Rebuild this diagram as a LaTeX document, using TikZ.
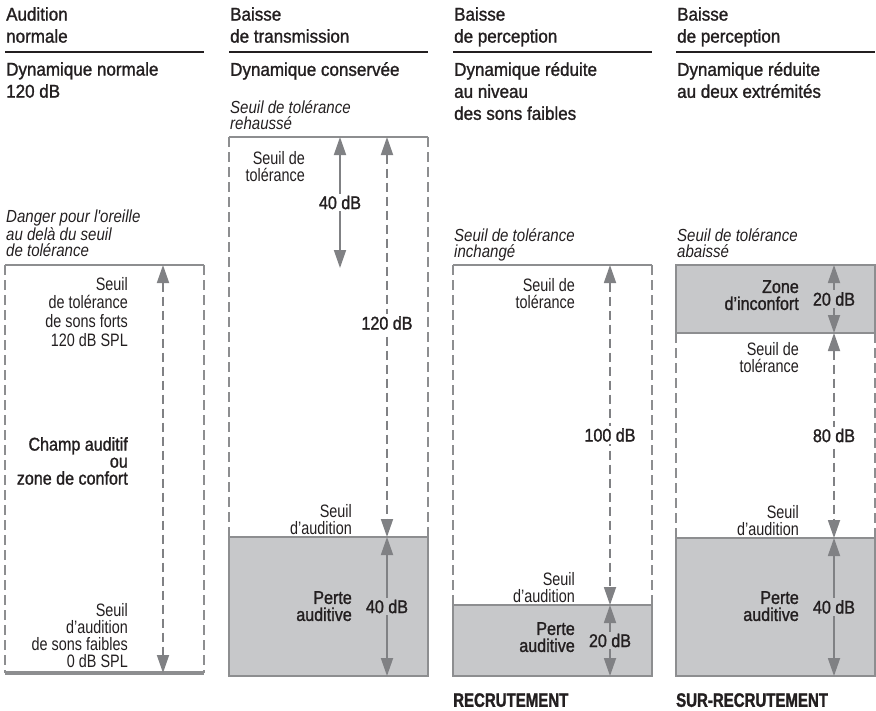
\documentclass[tikz,border=0pt]{standalone}
\usepackage{fontspec}
\setmainfont{Liberation Sans}
\newfontfamily\headfont{Liberation Sans}[FakeStretch=0.92,FakeBold=1.3]
\newfontfamily\lightfont{Liberation Sans}[FakeStretch=0.80]
\newfontfamily\medfont{Liberation Sans}[FakeStretch=0.87,FakeBold=1.3]
\newfontfamily\slantfont{Liberation Sans}[FakeStretch=0.86]
\newfontfamily\heavyfont{Liberation Sans}[FakeStretch=0.77,FakeBold=1.4]
\usetikzlibrary{arrows.meta}
\definecolor{inkC}{HTML}{231F20}
\definecolor{edgeC}{HTML}{8D8E90}
\definecolor{arrowC}{HTML}{808184}
\definecolor{lossC}{HTML}{C7C8CA}

\begin{document}
\begin{tikzpicture}[x=1pt,y=-1pt,
  headtxt/.style={inner sep=0pt,anchor=north west,align=left,text=inkC,font=\headfont\fontsize{18.5}{22}\selectfont},
  headrule/.style={draw=inkC,line width=1.8pt},
  slanttxt/.style={inner sep=0pt,anchor=north west,align=left,text=inkC,font=\slantfont\itshape\fontsize{17.5}{16.5}\selectfont},
  lighttxt/.style={inner sep=0pt,anchor=north east,align=right,text=inkC,font=\lightfont\fontsize{18}{17}\selectfont},
  medtxt/.style={inner sep=0pt,anchor=north east,align=right,text=inkC,font=\medfont\fontsize{18.5}{17}\selectfont},
  dbtxt/.style={inner sep=2pt,text=inkC,font=\medfont\fontsize{18.5}{17}\selectfont},
  casetxt/.style={inner sep=0pt,anchor=north west,text=inkC,font=\heavyfont\bfseries\fontsize{19.5}{20}\selectfont},
  boxline/.style={draw=edgeC,line width=2.5pt},
  sideline/.style={boxline,dash pattern=on 10pt off 5pt},
  lossbox/.style={boxline,fill=lossC},
  dimline/.style={draw=arrowC,line width=1.8pt,{Triangle[length=18pt,width=12pt]}-{Triangle[length=18pt,width=12pt]}},
  dimdash/.style={dimline,dash pattern=on 9pt off 5pt}]
  \useasboundingbox (0,0) rectangle (876,710);

  % headings
  \node[headtxt] (h1) at (6,7) {Audition\\normale};
  \node[headtxt] (h2) at (230,7) {Baisse\\de transmission};
  \node[headtxt] (h3) at (454,7) {Baisse\\de perception};
  \node[headtxt] (h4) at (677,7) {Baisse\\de perception};
  \foreach \x in {5,229,453,676}
    \draw[headrule] (\x,52) -- (\x+199,52);
  \node[headtxt] (d1) at (6,62) {Dynamique normale\\120 dB};
  \node[headtxt] (d2) at (230,62) {Dynamique conservée};
  \node[headtxt] (d3) at (454,62) {Dynamique réduite\\au niveau\\des sons faibles};
  \node[headtxt] (d4) at (677,62) {Dynamique réduite\\au deux extrémités};

  % audition normale
  \node[slanttxt] (s1) at (6,210) {Danger pour l'oreille\\au delà du seuil\\de tolérance};
  \draw[boxline] (5,265) -- (204,265);
  \draw[sideline] (5,265) -- (5,673);
  \draw[sideline] (204,265) -- (204,673);
  \draw[boxline,line width=4pt] (5,673) -- (204,673);
  \coordinate (n-top) at (163,265);
  \coordinate (n-bot) at (163,673);
  \draw[dimdash] (n-top) -- (n-bot);
  \node[lighttxt,font=\lightfont\fontsize{18}{18.7}\selectfont] (n-tol) at (128,277) {Seuil\\de tolérance\\de sons forts\\120 dB SPL};
  \node[medtxt] (n-champ) at (128,437) {Champ auditif\\ou\\zone de confort};
  \node[lighttxt] (n-aud) at (128,603) {Seuil\\d’audition\\de sons faibles\\0 dB SPL};

  % baisse de transmission
  \node[slanttxt] (s2) at (230,100) {Seuil de tolérance\\rehaussé};
  \draw[boxline] (229,137) -- (428,137);
  \draw[sideline] (229,137) -- (229,537);
  \draw[sideline] (428,137) -- (428,537);
  \draw[lossbox] (229,537) rectangle (428,676);
  \coordinate (t-old) at (340,137);
  \coordinate (t-new) at (340,268);
  \coordinate (t-top) at (387,137);
  \coordinate (t-thr) at (387,537);
  \coordinate (t-bot) at (387,676);
  \draw[dimline] (t-old) -- node[dbtxt,fill=white] (t-d40) {40 dB} (t-new);
  \draw[dimdash] (t-top) -- node[dbtxt,fill=white,pos=0.465] (t-d120) {120 dB} (t-thr);
  \draw[dimline] (t-thr) -- node[dbtxt,fill=lossC] (t-dloss) {40 dB} (t-bot);
  \node[lighttxt] (t-tol) at (305,151) {Seuil de\\tolérance};
  \node[lighttxt] (t-aud) at (352,504) {Seuil\\d’audition};
  \node[medtxt] (t-perte) at (352,591) {Perte\\auditive};

  % baisse de perception, recrutement
  \node[slanttxt] (s3) at (454,228) {Seuil de tolérance\\inchangé};
  \draw[boxline] (453,265) -- (652,265);
  \draw[sideline] (453,265) -- (453,605);
  \draw[sideline] (652,265) -- (652,605);
  \draw[lossbox] (453,605) rectangle (652,676);
  \coordinate (r-top) at (610,265);
  \coordinate (r-thr) at (610,605);
  \coordinate (r-bot) at (610,676);
  \draw[dimdash] (r-top) -- node[dbtxt,fill=white] (r-d100) {100 dB} (r-thr);
  \draw[dimline] (r-thr) -- node[dbtxt,fill=lossC] (r-dloss) {20 dB} (r-bot);
  \node[lighttxt] (r-tol) at (575,278) {Seuil de\\tolérance};
  \node[lighttxt] (r-aud) at (575,572) {Seuil\\d’audition};
  \node[medtxt] (r-perte) at (575,622) {Perte\\auditive};
  \node[casetxt] (r-case) at (453,693) {RECRUTEMENT};

  % baisse de perception, sur-recrutement
  \node[slanttxt] (s4) at (677,228) {Seuil de tolérance\\abaissé};
  \draw[lossbox] (676,265) rectangle (875,333);
  \draw[sideline] (676,333) -- (676,538);
  \draw[sideline] (875,333) -- (875,538);
  \draw[lossbox] (676,538) rectangle (875,676);
  \coordinate (u-top) at (834,265);
  \coordinate (u-tol) at (834,333);
  \coordinate (u-thr) at (834,538);
  \coordinate (u-bot) at (834,676);
  \draw[dimline] (u-top) -- node[dbtxt,fill=lossC] (u-d20) {20 dB} (u-tol);
  \draw[dimdash] (u-tol) -- node[dbtxt,fill=white] (u-d80) {80 dB} (u-thr);
  \draw[dimline] (u-thr) -- node[dbtxt,fill=lossC] (u-dloss) {40 dB} (u-bot);
  \node[medtxt] (u-zone) at (799,280) {Zone\\d’inconfort};
  \node[lighttxt] (u-tolt) at (799,342) {Seuil de\\tolérance};
  \node[lighttxt] (u-aud) at (799,505) {Seuil\\d’audition};
  \node[medtxt] (u-perte) at (799,591) {Perte\\auditive};
  \node[casetxt] (u-case) at (676,693) {SUR-RECRUTEMENT};
\end{tikzpicture}
\end{document}
